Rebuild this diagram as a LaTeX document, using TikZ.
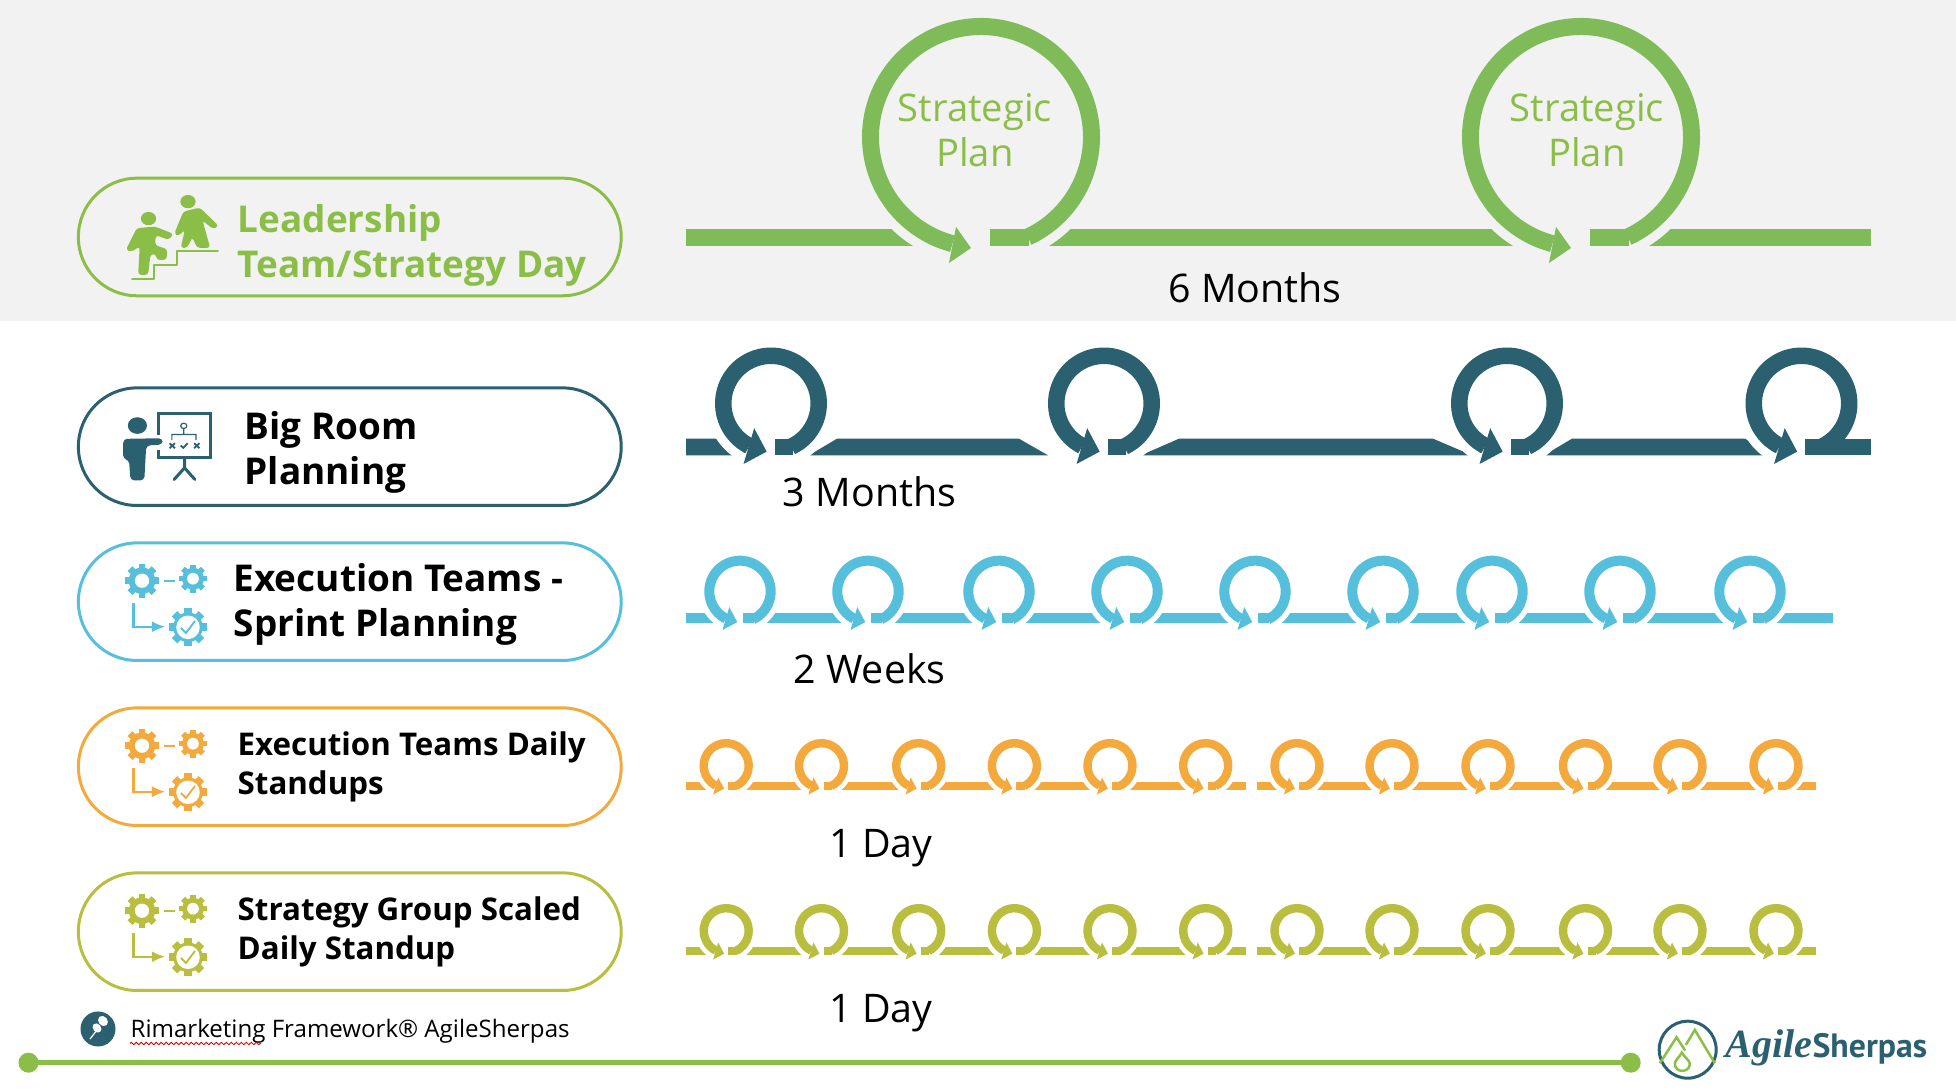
\documentclass[tikz,border=0pt]{standalone}
\usepackage{fontspec}
\setmainfont{Open Sans}
\newfontfamily\logoscript{Liberation Serif}
\newfontfamily\logosans{PT Sans}
\usetikzlibrary{arrows.meta,decorations.pathmorphing}
\definecolor{leadgreen}{HTML}{7FBB59}
\definecolor{pillgreen}{HTML}{8BBE46}
\definecolor{darkteal}{HTML}{2A6070}
\definecolor{sprintblue}{HTML}{56C0DC}
\definecolor{dayorange}{HTML}{F4A93C}
\definecolor{dayolive}{HTML}{B9BE3F}
\definecolor{bandgray}{HTML}{F2F2F2}
\tikzset{
  pill/.style={draw=#1, line width=0.03cm, rounded corners=0.585cm, minimum width=5.425cm, minimum height=1.175cm, inner sep=0pt},
  rowtext/.style={anchor=west, align=left, inner sep=0pt, font=\fontsize{10.5}{12.8}\selectfont\bfseries},
  smalltext/.style={anchor=west, align=left, inner sep=0pt, font=\fontsize{8.9}{10.95}\selectfont\bfseries},
  spantext/.style={anchor=base, inner sep=0pt, font=\fontsize{11.2}{13}\selectfont},
  plantext/.style={align=center, inner sep=0pt, text=pillgreen, font=\fontsize{10.85}{12.7}\selectfont},
  iconline/.style={line width=#1, line join=round, line cap=round}
}
% head of a loop arrow, as fractions of the loop radius
\def\headax{-.30}\def\heady{.44}\def\headbx{-.077}\def\headby{.86}\def\headcx{-.49}\def\headcy{1.08}\def\armend{-243}
% cx, cy, radius, ring width, line top, line bottom, colour, background
\newcommand{\loopmark}[8]{
  \fill[#8] (#1,#2) circle[radius={#3+0.55*#4}];
  \fill[#7] ({#1+0.075*#3},#5) rectangle ({#1+0.4*#3},#6);
  \draw[#7, line width={#4*0.01cm}] ({#1+(#3-#4/2)*cos(65)},{#2+(#3-#4/2)*sin(65)}) arc[start angle=65, end angle=\armend, radius={#3-#4/2}];
  \fill[#7] ({#1+\headax*#3},{#2+\heady*#3}) -- ({#1+\headbx*#3},{#2+\headby*#3}) -- ({#1+\headcx*#3},{#2+\headcy*#3}) -- cycle;
}
% x, y, radius, colour, background, hole
\newcommand{\gearwheel}[6]{
  \foreach \a in {0,45,...,315}{\fill[#4, rotate around={\a:(#1,#2)}] ({#1-.2*#3},#2) rectangle ({#1+.2*#3},{#2-#3});}
  \fill[#4] (#1,#2) circle[radius={.78*#3}];
  \fill[#5] (#1,#2) circle[radius={#6*#3}];
}
% offset from the sprint row, colour
\newcommand{\gearicon}[2]{
  \gearwheel{142}{580.7+#1}{17}{#2}{white}{.42}
  \gearwheel{193}{578.7+#1}{14}{#2}{white}{.42}
  \gearwheel{188}{627.3+#1}{19}{#2}{white}{.62}
  \draw[#2, line width=0.02cm] (164,{580.7+#1}) -- (175,{580.7+#1});
  \draw[#2, line width=0.02cm, -{Latex[length=0.13cm,width=0.11cm]}] (133.5,{603+#1}) -- (133.5,{626.7+#1}) -- (165,{626.7+#1});
  \draw[#2, line width=0.018cm] (181,{628+#1}) -- (186,{633+#1}) -- (195,{621+#1});
}
\begin{document}
\begin{tikzpicture}[x=0.01cm, y=-0.01cm]
  \useasboundingbox (0,0) rectangle (1956,1092);
  \fill[white] (0,0) rectangle (1956,1092);
  \fill[bandgray] (0,0) rectangle (1956,320.7);

  % pills
  \node[pill=pillgreen] (leaderpill) at (349.8,237) {};
  \node[pill=darkteal] (bigroompill) at (349.8,446.7) {};
  \node[pill=sprintblue] (sprintpill) at (349.8,601.7) {};
  \node[pill=dayorange] (standuppill) at (349.8,766.7) {};
  \node[pill=dayolive] (strategypill) at (349.8,931.7) {};

  \node[rowtext, text=pillgreen] (leadertext) at (237,245) {Leadership\\Team/Strategy Day};
  \node[rowtext] (bigroomtext) at (244,452) {Big Room\\Planning};
  \node[rowtext] (sprinttext) at (233,604) {Execution Teams -\\Sprint Planning};
  \node[smalltext] (standuptext) at (237,767) {Execution Teams Daily\\Standups};
  \node[smalltext] (strategytext) at (237,932) {Strategy Group Scaled\\Daily Standup};

  % strategic plan row
  \fill[leadgreen] (686,229) rectangle (1871,246);
  \begin{scope}
    \def\headax{-.21}\def\heady{.756}\def\headbx{-.084}\def\headby{.933}\def\headcx{-.269}\def\headcy{1.059}\def\armend{-255}
    \foreach \cx in {981,1581}{\loopmark{\cx}{137}{119}{17}{229}{246}{leadgreen}{bandgray}}
  \end{scope}
  \node[plantext] (planone) at (975,130) {Strategic\\Plan};
  \node[plantext] (plantwo) at (1587,130) {Strategic\\Plan};
  \node[spantext] (sixmonths) at (1255,303) {6 Months};

  % big room row
  \fill[darkteal] (686,438.7) -- (718,438.7) -- (733,455.3) -- (686,455.3) -- cycle;
  \fill[darkteal] (837,438.7) -- (1019,438.7) -- (1048,455.3) -- (809,455.3) -- cycle;
  \fill[darkteal] (1179,438.7) -- (1433,438.7) -- (1472,455.3) -- (1141,455.3) -- cycle;
  \fill[darkteal] (1572,438.7) -- (1745,438.7) -- (1773,455.3) -- (1544,455.3) -- cycle;
  \foreach \cx in {771,1104,1507,1801.5}{\loopmark{\cx}{403.5}{56}{16.5}{438.7}{455.3}{darkteal}{white}}
  \fill[darkteal] (1805,438.7) rectangle (1871,455.3);
  \node[spantext] (threemonths) at (869.5,506.7) {3 Months};

  % sprint row
  \fill[sprintblue] (686,613.3) rectangle (1833,623.3);
  \foreach \cx in {740,868,999,1127,1255,1383,1492,1620,1750}{\loopmark{\cx}{591.4}{35.7}{10}{613.3}{623.3}{sprintblue}{white}}
  \node[spantext] (twoweeks) at (869.5,684) {2 Weeks};

  % daily rows
  \foreach \ly/\col in {765.7/dayorange,930.7/dayolive}{
    \fill[\col] (686,\ly+16.6) rectangle (1245.5,\ly+24.3);
    \fill[\col] (1257,\ly+16.6) rectangle (1816,\ly+24.3);
    \foreach \cx in {726.2,821.5,918.7,1014.4,1110,1205.7,1297,1392,1488,1585.5,1680,1776}{\loopmark{\cx}{\ly}{26.7}{8.4}{\ly+16.6}{\ly+24.3}{\col}{white}}
  }
  \node[spantext] (dayone) at (881,857.3) {1 Day};
  \node[spantext] (daytwo) at (881,1022.3) {1 Day};

  % row icons
  \gearicon{0}{sprintblue}
  \gearicon{165}{dayorange}
  \gearicon{330}{dayolive}
  \begin{scope}[shift={(60,160)}, x=0.003827cm, y=-0.003333cm]
    % two climbers on the stairs
    \fill[pillgreen] (334,125) circle[radius=20];
    \fill[pillgreen] (231,176) circle[radius=20];
    \fill[pillgreen, rounded corners=0.03cm] (298,222) -- (322,155) -- (365,143) -- (414,198) -- (400,208) -- (372,182) -- (392,264) -- (358,264) -- (345,232) -- (332,264) -- (315,264) -- (326,210) -- (310,228) -- cycle;
    \fill[pillgreen, rounded corners=0.03cm] (172,270) -- (200,205) -- (248,200) -- (296,222) -- (284,240) -- (250,226) -- (248,256) -- (280,268) -- (278,300) -- (252,300) -- (250,282) -- (236,284) -- (230,345) -- (204,345) -- (208,260) -- (186,276) -- cycle;
    \draw[pillgreen, iconline=0.02cm] (188,357) -- (246,357) -- (246,315) -- (305,315) -- (305,272) -- (412,272);
    % presenter at a board
    \fill[darkteal] (202,798) circle[radius=25];
    \fill[darkteal, rounded corners=0.04cm] (165,900) -- (165,838) -- (268,836) -- (268,855) -- (225,858) -- (220,963) -- (184,963) -- (180,900) -- cycle;
    \draw[darkteal, line width=0.03cm] (258,826) -- (258,761) -- (392,761) -- (392,895) -- (258,895) -- (258,870);
    \draw[darkteal, iconline=0.03cm] (325,895) -- (325,925) -- (298,960) (325,925) -- (352,960);
    \draw[darkteal, line width=0.012cm] (323,799) circle[radius=8] (323,808) -- (323,825) (292,842) -- (292,825) -- (355,825) -- (355,842);
    \draw[darkteal, line width=0.018cm] (286,851) -- (300,866) (300,851) -- (286,866) (350,851) -- (364,866) (364,851) -- (350,866) (315,858) -- (322,865) -- (333,851);
  \end{scope}

  % footer
  \fill[darkteal] (98,1029) circle[radius=17.5];
  \draw[white, line width=0.012cm] (90,1039) -- (97,1030);
  \fill[white, rotate around={40:(103,1021)}] (103,1021) ellipse[x radius=4.5, y radius=5.5];
  \fill[white, rotate around={40:(97,1028)}] (97,1028) ellipse[x radius=4, y radius=5];
  \node[anchor=base west, inner sep=0pt, font=\fontsize{6.85}{9}\selectfont] (footnote) at (130,1038) {Rimarketing Framework® AgileSherpas};
  \draw[red!80!black, line width=0.008cm, decorate, decoration={zigzag, amplitude=0.012cm, segment length=0.05cm}] (130,1043.5) -- (261,1043.5);
  \fill[pillgreen] (28.5,1062.7) circle[radius=10];
  \fill[pillgreen] (1630.7,1062.7) circle[radius=10];
  \draw[pillgreen, line width=0.047cm] (28.5,1062.7) -- (1630.7,1062.7);

  % logo
  \draw[darkteal, line width=0.03cm] (1687.7,1049.7) circle[radius=28.5];
  \begin{scope}[shift={(1580,990)}, x=0.00333cm, y=-0.00333cm]
    \draw[pillgreen, line width=0.025cm] (240,220) -- (290,142) -- (316,182) (318,165) -- (345,120) -- (405,220);
    \draw[pillgreen, line width=0.025cm] (306,188) .. controls (296,205) and (285,212) .. (285,222) .. controls (285,250) and (330,250) .. (330,222) .. controls (330,212) and (316,205) .. (306,188) -- cycle;
  \end{scope}
  \node[anchor=base west, inner sep=0pt, text=darkteal] (logotext) at (1725,1058) {{\logoscript\fontsize{11.4}{14}\selectfont\bfseries\itshape Agile}{\logosans\fontsize{9.6}{12}\selectfont\bfseries Sherpas}};
\end{tikzpicture}
\end{document}
